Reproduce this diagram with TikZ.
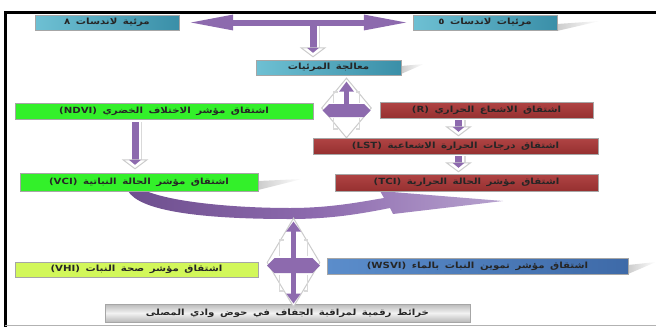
\documentclass[tikz,border=0pt]{standalone}
\usepackage{fontspec}
\usetikzlibrary{shadows,shapes.geometric,shapes.symbols,arrows.meta,calc}
\TeXXeTstate=1
\newfontfamily\arabicfont[Script=Arabic, FakeStretch=1.2]{DejaVu Sans}
\newcommand{\arfont}{\arabicfont\bfseries\fontsize{8.5}{9}\selectfont\spaceskip=0.65em\relax}
\definecolor{pur}{HTML}{8D6AAE}
\definecolor{purL}{HTML}{B7A2CE}
\definecolor{purD}{HTML}{6E4F8E}
\definecolor{tealL}{HTML}{6EC0D3}
\definecolor{tealD}{HTML}{3A8FA8}
\definecolor{grn}{HTML}{33F02A}
\definecolor{redL}{HTML}{B04444}
\definecolor{redD}{HTML}{963030}
\definecolor{ylg}{HTML}{D2F75A}
\definecolor{blueL}{HTML}{5B8DCB}
\definecolor{blueD}{HTML}{3E6AA8}
\newcommand{\AR}[1]{\beginR #1\endR}
\newcommand{\StripeArrow}[2]{%
  \fill[pur] ($(#1)+(-3.5,0)$) rectangle ($(#2)+(3.5,-7)$);
  \draw[gray!30, line width=1.6pt] ($(#1)+(6.5,0)$) -- ($(#2)+(6.5,-9)$);
  \draw[gray!40, line width=1pt, fill=white] ($(#2)+(-12,-9)$) -- (#2) -- ($(#2)+(12,-9)$) -- cycle;
  \fill[pur] ($(#2)+(-6,-9)$) -- ($(#2)+(0,-4)$) -- ($(#2)+(6,-9)$) -- cycle;
}
\begin{document}
\begin{tikzpicture}[x=1pt,y=-1pt,
  box/.style={draw=black!35, line width=0.4pt, inner sep=0pt, text=black!85,
     font=\arfont,
     drop shadow={shadow xshift=1.3pt, shadow yshift=-1.3pt, fill=black!60, opacity=0.8}},
  tealbox/.style={box, left color=tealL, right color=tealD},
  greenbox/.style={box, fill=grn},
  redbox/.style={box, top color=redL, bottom color=redD},
  ygbox/.style={box, fill=ylg},
  bluebox/.style={box, left color=blueL, right color=blueD},
  graybox/.style={box, top color=gray!55, bottom color=gray!55, middle color=gray!10},
  dia/.style={diamond, draw=gray!40, line width=1pt, fill=white, inner sep=0pt},
  hexa/.style={signal, signal to=east and west, fill=pur, inner sep=0pt},
  uparr/.style={pur, line width=5pt, -{Triangle[length=10pt,width=14pt]}},
  stripe/.style={gray!30, line width=1.6pt},
  fade/.style={left color=gray!40, right color=white, draw=none}
]
\useasboundingbox (0,0) rectangle (656,327);
% frame
\draw[line width=3pt] (4,12) -- (656,12);
\draw[line width=3pt] (5.5,11) -- (5.5,327);
\draw[gray!60, line width=1.5pt] (5,325.5) -- (656,325.5);

% fading reflections
\shade[fade] (557,24) -- (600,21) -- (557,31) -- cycle;
\shade[fade] (401,66) -- (424,64) -- (401,74) -- cycle;
\shade[fade] (258,181) -- (302,179) -- (258,190) -- cycle;
\shade[fade] (628,265) -- (656,262) -- (628,274) -- cycle;

% curved arrow
\shade[left color=purD, right color=purL, middle color=pur]
  (146,191) .. controls (175,203) and (240,208) .. (290,208)
  .. controls (330,208) and (360,202) .. (384,198) -- (380,191) -- (503,201) -- (393,214) -- (390,208)
  .. controls (360,214) and (330,219) .. (290,219)
  .. controls (200,219) and (140,211) .. (128,191) -- cycle;

% boxes
\node[tealbox, minimum width=144pt, minimum height=15pt] (l8) at (107,22.5) {\AR{مرئية لاندسات ٨}};
\node[tealbox, minimum width=144pt, minimum height=15pt] (l5) at (485,22.5) {\AR{مرئيات لاندسات ٥}};
\node[tealbox, minimum width=145pt, minimum height=15pt] (proc) at (328.5,67.5) {\AR{معالجة المرئيات}};
\node[greenbox, minimum width=298pt, minimum height=16pt] (ndvi) at (164,111) {\AR{اشتقاق مؤشر الاختلاف الخضري \beginL(NDVI)\endL}};
\node[redbox, minimum width=213pt, minimum height=16pt] (rr) at (486.5,110) {\AR{اشتقاق الاشعاع الحراري \beginL(R)\endL}};
\node[greenbox, minimum width=238pt, minimum height=18pt] (vci) at (139,182) {\AR{اشتقاق مؤشر الحالة النباتية \beginL(VCI)\endL}};
\node[redbox, minimum width=263pt, minimum height=17pt] (tci) at (466.5,182.5) {\AR{اشتقاق مؤشر الحالة الحرارية \beginL(TCI)\endL}};
\node[ygbox, minimum width=243pt, minimum height=15pt] (vhi) at (136.5,269.5) {\AR{اشتقاق مؤشر صحة النبات \beginL(VHI)\endL}};
\node[bluebox, minimum width=301pt, minimum height=16pt] (wsvi) at (477.5,266) {\AR{اشتقاق مؤشر تموين النبات بالماء \beginL(WSVI)\endL}};
\node[graybox, minimum width=365pt, minimum height=18pt] (maps) at (287.5,313) {\AR{خرائط رقمية لمراقبة الجفاف في حوض وادي المصلى}};

% upper diamond
\node[dia, minimum width=50pt, minimum height=60pt] (d1) at (346.5,108) {};
\node[hexa, minimum width=48pt, minimum height=13pt] (h1) at (346.5,110.5) {};
\draw[uparr] (h1.north) -- ($(d1.north)+(0,4)$);
\draw[stripe] ($(h1.north)+(-13,-1)$) -- ++(0,-11) -- ++(4,0);
\draw[stripe] ($(h1.north)+(13,-1)$) -- ++(0,-11) -- ++(-4,0);
\draw[stripe] ($(h1.south)+(-13,1)$) -- ++(0,11) -- ++(4,0);
\draw[stripe] ($(h1.south)+(13,1)$) -- ++(0,11) -- ++(-4,0);

% LST box drawn over lower tip of the diamond
\node[redbox, minimum width=285pt, minimum height=16pt] (lst) at (455.5,146) {\AR{اشتقاق درجات الحرارة الاشعاعية \beginL(LST)\endL}};

% lower diamond
\node[dia, minimum width=53pt, minimum height=89pt] (d2) at (293.5,262.5) {};
\node[hexa, minimum width=53pt, minimum height=15pt] (h2) at (293.5,265.5) {};
\draw[uparr] (h2.north) -- ($(d2.north)+(0,4)$);
\draw[uparr] (h2.south) -- ($(d2.south)+(0,-4)$);
\draw[stripe] ($(h2.north)+(-14,-2)$) -- ++(0,-16) -- ++(4,0);
\draw[stripe] ($(h2.north)+(14,-2)$) -- ++(0,-16) -- ++(-4,0);
\draw[stripe] ($(h2.south)+(-14,2)$) -- ++(0,16) -- ++(4,0);
\draw[stripe] ($(h2.south)+(14,2)$) -- ++(0,16) -- ++(-4,0);

% top double arrow
\draw[pur, line width=6pt, {Triangle[length=46pt,width=14pt]}-{Triangle[length=46pt,width=14pt]}, shorten <=8pt, shorten >=3pt] (l8.east) -- (l5.west);

% striped arrows
\coordinate (a1s) at (313,26);
\coordinate (a1e) at ($(a1s |- proc.north)+(0,-3)$);
\StripeArrow{a1s}{a1e}
\coordinate (a2s) at ($(ndvi.south)+(-29,3)$);
\coordinate (a2e) at ($(a2s |- vci.north)+(0,-4)$);
\StripeArrow{a2s}{a2e}
\coordinate (a3s) at ($(rr.south)+(-28,2)$);
\coordinate (a3e) at ($(a3s |- lst.north)+(0,-2)$);
\StripeArrow{a3s}{a3e}
\coordinate (a4s) at ($(lst.south)+(3,2)$);
\coordinate (a4e) at ($(a4s |- tci.north)+(0,-2)$);
\StripeArrow{a4s}{a4e}
\end{tikzpicture}
\end{document}
